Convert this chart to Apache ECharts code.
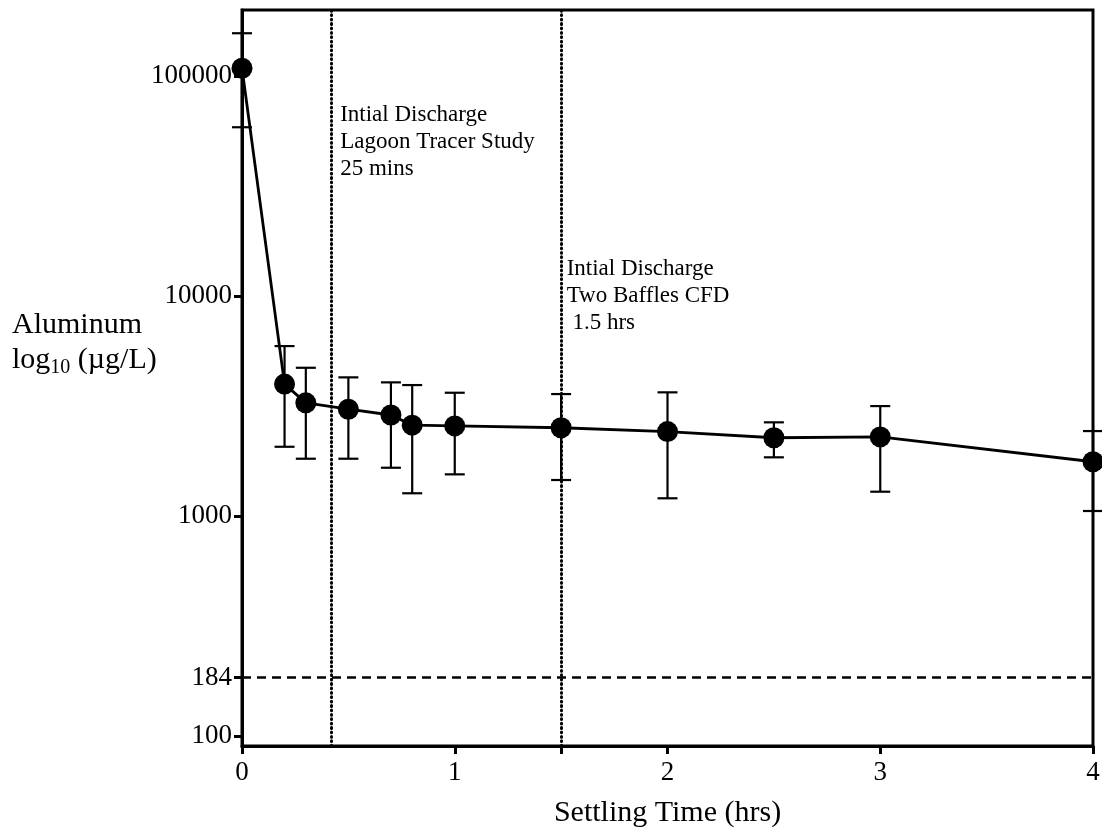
<!DOCTYPE html>
<html><head><meta charset="utf-8">
<script src="https://cdn.jsdelivr.net/npm/echarts@6/dist/echarts.min.js"></script>
<style>html,body{margin:0;padding:0;background:#fff}#c{width:1102px;height:834px}</style>
</head><body><div id="c"></div>
<script>
// ---- data ----
const times = [0, 0.2, 0.3, 0.5, 0.7, 0.8, 1, 1.5, 2, 2.5, 3, 4];
const aluminum = [108700, 3980, 3270, 3060, 2880, 2590, 2570, 2520, 2420, 2270, 2290, 1765];
const errLow = [58600, 2065, 1822, 1822, 1658, 1269, 1547, 1458, 1204, 1849, 1290, 1054];
const errHigh = [156800, 5927, 4722, 4271, 4053, 3940, 3636, 3586, 3651, 2667, 3162, 2434];
const yTicks = [100, 184, 1000, 10000, 100000];
const xTicks = [0, 1, 2, 3, 4];
const xTickMarks = [0, 1, 1.5, 2, 3, 4];
const dischargeTimes = [25 / 60, 1.5];
const dischargeLabels = ['Intial Discharge\nLagoon Tracer Study\n25 mins', 'Intial Discharge\nTwo Baffles CFD\n 1.5 hrs'];
const dischargeLabelAnchors = [50000, 10000];
const limitValue = 184;

const FONT = 'Liberation Serif';
const chart = echarts.init(document.getElementById('c'), null, {renderer: 'canvas'});

const dotted = {color: '#000', width: 3, type: [0.8, 3.6], cap: 'round'};

const option = {
  animation: false,
  backgroundColor: '#fff',
  grid: {
    left: 242, right: 9, top: 10, bottom: 88,
    show: true, borderColor: '#000', borderWidth: 3,
    outerBoundsMode: 'none', containLabel: false
  },
  xAxis: {
    type: 'value', min: 0, max: 4,
    axisLine: {show: true, onZero: false, lineStyle: {color: '#000', width: 3}},
    axisTick: {show: true, customValues: xTickMarks, length: 8, lineStyle: {color: '#000', width: 3}},
    axisLabel: {customValues: xTicks, color: '#000', fontFamily: FONT, fontSize: 27, margin: 13,
      formatter: v => String(Math.round(v))},
    splitLine: {show: false},
    name: 'Settling Time (hrs)', nameLocation: 'middle', nameGap: 52,
    nameTextStyle: {color: '#000', fontFamily: FONT, fontSize: 30}
  },
  yAxis: {
    type: 'log', logBase: 10, min: 90, max: 200000,
    axisLine: {show: true, lineStyle: {color: '#000', width: 3}},
    axisTick: {show: true, customValues: yTicks, length: 8, lineStyle: {color: '#000', width: 3}},
    axisLabel: {customValues: yTicks, color: '#000', fontFamily: FONT, fontSize: 27, margin: 10,
      formatter: v => String(Math.round(v))},
    splitLine: {show: false},
    minorTick: {show: false}
  },
  graphic: [{
    type: 'text', left: 12, top: 310,
    style: {
      text: '{a|Aluminum}\n{a|log}{s|10}{a| (µg/L)}',
      rich: {
        a: {fontFamily: FONT, fontSize: 30, lineHeight: 35, fill: '#000'},
        s: {fontFamily: FONT, fontSize: 20, lineHeight: 20, verticalAlign: 'bottom', fill: '#000'}
      }
    }
  }],
  series: [
    {
      type: 'custom',
      clip: false,
      z: 3,
      data: times.map((t, i) => [t, errLow[i], errHigh[i]]),
      encode: {x: 0, y: [1, 2]},
      renderItem: function (params, api) {
        const x = api.value(0);
        const lo = api.coord([x, api.value(1)]);
        const hi = api.coord([x, api.value(2)]);
        const half = 10;
        const style = {stroke: '#000', lineWidth: 2.2};
        return {
          type: 'group',
          children: [
            {type: 'line', shape: {x1: lo[0], y1: lo[1], x2: hi[0], y2: hi[1]}, style: style},
            {type: 'line', shape: {x1: lo[0] - half, y1: lo[1], x2: lo[0] + half, y2: lo[1]}, style: style},
            {type: 'line', shape: {x1: hi[0] - half, y1: hi[1], x2: hi[0] + half, y2: hi[1]}, style: style}
          ]
        };
      }
    },
    {
      type: 'line',
      clip: false,
      z: 4,
      data: times.map((t, i) => [t, aluminum[i]]),
      symbol: 'circle', symbolSize: 21,
      itemStyle: {color: '#000'},
      lineStyle: {color: '#000', width: 2.8},
      markLine: {
        silent: true, symbol: 'none', label: {show: false},
        data: [
          {xAxis: dischargeTimes[0], lineStyle: dotted},
          {xAxis: dischargeTimes[1], lineStyle: dotted},
          {yAxis: limitValue, lineStyle: {color: '#000', width: 2.5, type: [9, 6]}}
        ]
      },
      markPoint: {
        symbol: 'circle', symbolSize: 1,
        itemStyle: {color: 'rgba(0,0,0,0)'},
        label: {show: true, position: 'right', align: 'left', verticalAlign: 'middle',
          color: '#000', fontFamily: FONT, fontSize: 23, lineHeight: 27},
        data: [
          {coord: [dischargeTimes[0], dischargeLabelAnchors[0]], value: dischargeLabels[0],
            label: {formatter: dischargeLabels[0], distance: 9}},
          {coord: [dischargeTimes[1], dischargeLabelAnchors[1]], value: dischargeLabels[1],
            label: {formatter: dischargeLabels[1], distance: 5}}
        ]
      }
    }
  ]
};
chart.setOption(option);
</script>
</body></html>
